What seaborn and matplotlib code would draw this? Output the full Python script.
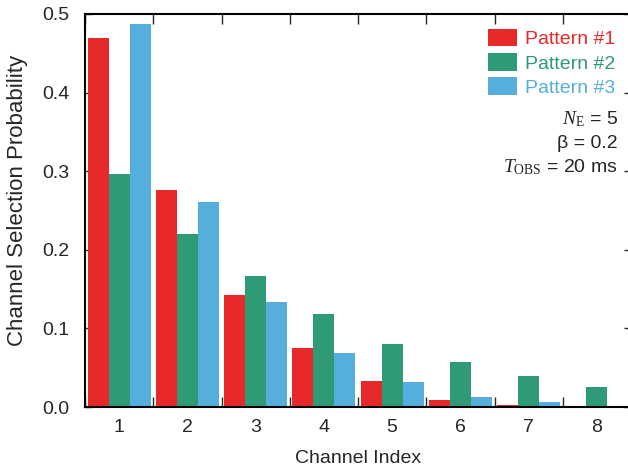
import numpy as np
import pandas as pd
import matplotlib
matplotlib.use("Agg")
import matplotlib.pyplot as plt
from matplotlib.ticker import MultipleLocator, FixedLocator, FormatStrFormatter
import seaborn as sns

# Channel selection probabilities per channel index for three traffic patterns
channels = ["1", "2", "3", "4", "5", "6", "7", "8"]
pattern_names = ["Pattern #1", "Pattern #2", "Pattern #3"]
pattern1 = [0.469, 0.276, 0.142, 0.075, 0.033, 0.009, 0.002, 0.001]
pattern2 = [0.296, 0.220, 0.167, 0.118, 0.080, 0.057, 0.039, 0.025]
pattern3 = [0.487, 0.261, 0.134, 0.069, 0.032, 0.013, 0.006, 0.0015]
colors = ["#E8292A", "#2F9B76", "#55AEDB"]

df = pd.DataFrame({
    "channel": channels * 3,
    "prob": pattern1 + pattern2 + pattern3,
    "pattern": [p for p in pattern_names for _ in channels],
})

sns.set_style("ticks")
plt.rcParams["font.family"] = ["Liberation Sans", "DejaVu Sans"]
plt.rcParams["mathtext.fontset"] = "custom"
plt.rcParams["mathtext.it"] = "Liberation Serif:italic"
plt.rcParams["mathtext.rm"] = "Liberation Serif"

W, H = 628, 470
fs = 14
fig = plt.figure(figsize=(W / 100, H / 100), dpi=100)
ax = fig.add_axes([85 / W, (H - 407) / H, 546 / W, 393 / H])

sns.barplot(data=df, x="channel", y="prob", hue="pattern", order=channels,
            hue_order=pattern_names, palette=colors, width=0.92,
            saturation=1, linewidth=0, ax=ax)

ax.set_xlim(-0.5, len(channels) - 0.5)
ax.set_ylim(0, 0.5)
ax.set_axisbelow(True)

for s in ax.spines.values():
    s.set_visible(True)
    s.set_linewidth(1.5)
    s.set_color("black")

ax.yaxis.set_major_locator(MultipleLocator(0.1))
ax.yaxis.set_major_formatter(FormatStrFormatter("%.1f"))
ax.tick_params(axis="y", which="major", direction="in", length=5, width=1,
               left=True, right=True, labelsize=fs, pad=11)
ax.xaxis.set_minor_locator(FixedLocator(np.arange(-0.5, len(channels), 1.0)))
ax.tick_params(axis="x", which="major", length=0, labelsize=fs, pad=9)
ax.tick_params(axis="x", which="minor", direction="in", length=7, width=1,
               top=True, bottom=True)

ax.set_xlabel("Channel Index", fontsize=fs)
ax.xaxis.set_label_coords(358 / W, 1 - 463 / H, transform=fig.transFigure)
ax.xaxis.label.set_va("baseline")
ax.set_ylabel("Channel Selection Probability", fontsize=16)
ax.yaxis.set_label_coords(18 / W, 1 - 200 / H, transform=fig.transFigure)
ax.yaxis.label.set_va("center")

handles, labels = ax.get_legend_handles_labels()
leg = ax.legend(handles, labels, loc="upper right",
                bbox_to_anchor=(615 / W, 1 - 29 / H),
                bbox_transform=fig.transFigure, frameon=False, fontsize=fs,
                handlelength=1.5, handleheight=1.0, handletextpad=0.4,
                labelspacing=0.25, borderpad=0, borderaxespad=0)
for txt, c in zip(leg.get_texts(), colors):
    txt.set_color(c)

fig.text(618 / W, 1 - 124 / H, r"$N_{\mathrm{E}}$ = 5", ha="right",
         va="baseline", fontsize=fs)
fig.text(618 / W, 1 - 148 / H, "β = 0.2", ha="right", va="baseline",
         fontsize=fs)
fig.text(618 / W, 1 - 172 / H, r"$T_{\mathrm{OBS}}$ = 20 ms", ha="right",
         va="baseline", fontsize=fs)

fig.savefig("out.png", dpi=100)
